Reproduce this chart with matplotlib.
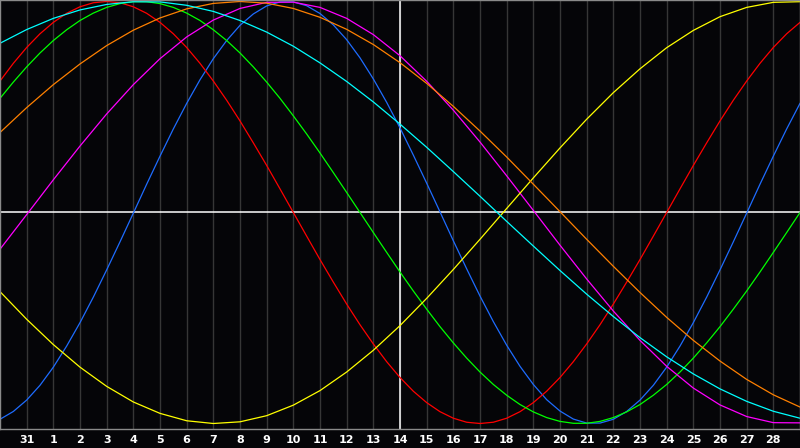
import matplotlib
matplotlib.use('Agg')
import matplotlib.pyplot as plt

# day offsets shown across the chart (0 = the day before "31")
day_index = list(range(31))
half_day_index = [i / 2 for i in range(61)]
day_labels = ['31'] + [str(d) for d in range(1, 29)]

# short cycles read every half day, long ones once a day
physical = [-0.980, -0.943, -0.889, -0.819, -0.733, -0.633, -0.522, -0.401, -0.272, -0.139,
            -0.003, 0.134, 0.267, 0.396, 0.517, 0.629, 0.729, 0.815, 0.887, 0.941,
            0.979, 0.998, 0.998, 0.980, 0.943, 0.889, 0.819, 0.733, 0.633, 0.522,
            0.401, 0.272, 0.139, 0.003, -0.134, -0.267, -0.396, -0.517, -0.629, -0.729,
            -0.815, -0.887, -0.941, -0.979, -0.998, -0.998, -0.980, -0.943, -0.889, -0.819,
            -0.733, -0.633, -0.522, -0.401, -0.272, -0.139, -0.003, 0.134, 0.267, 0.396,
            0.517]
emotional = [0.623, 0.707, 0.782, 0.847, 0.901, 0.944, 0.975, 0.994, 1.000, 0.994,
             0.975, 0.944, 0.901, 0.847, 0.782, 0.707, 0.623, 0.532, 0.434, 0.330,
             0.223, 0.112, 0.000, -0.112, -0.223, -0.330, -0.434, -0.532, -0.623, -0.707,
             -0.782, -0.847, -0.901, -0.944, -0.975, -0.994, -1.000, -0.994, -0.975, -0.944,
             -0.901, -0.847, -0.782, -0.707, -0.623, -0.532, -0.434, -0.330, -0.223, -0.112,
             0.000, 0.112, 0.223, 0.330, 0.434, 0.532, 0.623, 0.707, 0.782, 0.847,
             0.901]
intellectual = [0.541, 0.618, 0.690, 0.756, 0.815, 0.866, 0.910, 0.945, 0.972, 0.990,
                0.999, 0.999, 0.990, 0.972, 0.945, 0.910, 0.866, 0.815, 0.756, 0.690,
                0.618, 0.541, 0.458, 0.372, 0.282, 0.189, 0.095, 0.000, -0.095, -0.189,
                -0.282, -0.372, -0.458, -0.541, -0.618, -0.690, -0.756, -0.815, -0.866, -0.910,
                -0.945, -0.972, -0.990, -0.999, -0.999, -0.990, -0.972, -0.945, -0.910, -0.866,
                -0.815, -0.756, -0.690, -0.618, -0.541, -0.458, -0.372, -0.282, -0.189, -0.095,
                0.000]
intuitive = [-0.174, -0.010, 0.155, 0.315, 0.467, 0.606, 0.729, 0.832, 0.912, 0.967, 0.996,
             0.997, 0.972, 0.920, 0.843, 0.743, 0.622, 0.485, 0.334, 0.174, 0.010, -0.155,
             -0.315, -0.467, -0.606, -0.729, -0.832, -0.912, -0.967, -0.996, -0.997]
aesthetic = [-0.375, -0.506, -0.626, -0.733, -0.824, -0.898, -0.952, -0.987, -1.000, -0.992,
             -0.963, -0.913, -0.844, -0.756, -0.653, -0.536, -0.407, -0.270, -0.127, 0.019,
             0.164, 0.306, 0.442, 0.568, 0.681, 0.781, 0.863, 0.928, 0.972, 0.996, 0.999]
awareness = [0.379, 0.497, 0.606, 0.704, 0.791, 0.864, 0.922, 0.965, 0.991, 1.000, 0.992,
             0.967, 0.925, 0.868, 0.796, 0.710, 0.612, 0.503, 0.386, 0.263, 0.134, 0.004,
             -0.127, -0.255, -0.379, -0.497, -0.606, -0.704, -0.791, -0.864, -0.922]
spiritual = [0.802, 0.867, 0.920, 0.960, 0.986, 0.999, 0.998, 0.982, 0.953, 0.910, 0.855,
             0.788, 0.709, 0.621, 0.524, 0.419, 0.309, 0.194, 0.077, -0.042, -0.159, -0.275,
             -0.387, -0.493, -0.593, -0.684, -0.765, -0.836, -0.895, -0.942, -0.975]

series = [
    (half_day_index, physical, '#1e6cff'),
    (half_day_index, emotional, '#ff0000'),
    (half_day_index, intellectual, '#00ff00'),
    (day_index, intuitive, '#ff00ff'),
    (day_index, aesthetic, '#ffff00'),
    (day_index, awareness, '#ff8000'),
    (day_index, spiritual, '#00ffff'),
]

fig = plt.figure(figsize=(8, 4.48), dpi=100, facecolor='#050508')
ax = fig.add_axes([0, 19.5 / 448, 1, 428 / 448])
ax.set_facecolor('#050508')

ax.set_xlim(day_index[0], day_index[-1])
ax.set_ylim(-1.0237, 1.0047)

label_pos = day_index[1:-1]
ax.set_xticks(label_pos)
ax.set_xticklabels(day_labels)
ax.set_yticks([])
ax.tick_params(axis='x', length=0, pad=5, colors='white', labelsize=8)
for lab in ax.get_xticklabels():
    lab.set_fontweight('bold')

ax.grid(axis='x', color='#363636', lw=1)
ax.set_axisbelow(True)
mid = label_pos[len(label_pos) // 2]
ax.axvline(mid, color='white', lw=1.1, zorder=1.5)
ax.axhline(0, color='white', lw=1.1, zorder=1.5)

for xs, vals, col in series:
    ax.plot(xs, vals, color=col, lw=0.9, zorder=2)

for sp in ax.spines.values():
    sp.set_color('#8a8a8a')
    sp.set_linewidth(1)

fig.savefig('out.png', dpi=100, facecolor=fig.get_facecolor())
